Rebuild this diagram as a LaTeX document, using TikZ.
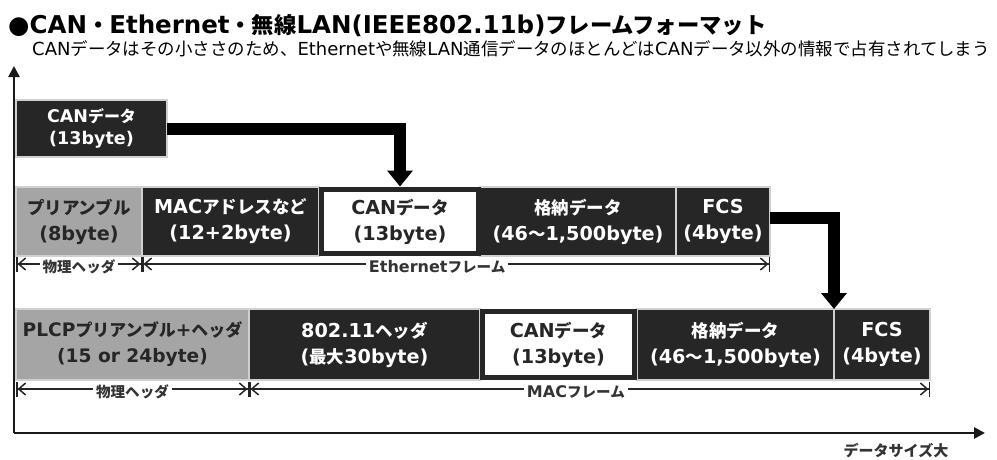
\documentclass[tikz,border=0pt]{standalone}
\usepackage{fontspec}
\setmainfont{DejaVu Sans}
\newfontfamily\jp{Noto Sans CJK JP}[Scale=0.91]
\newfontfamily\jps{Noto Sans CJK JP}[Scale=0.97]
\newcommand{\J}[1]{{\jp #1}}
\newcommand{\K}[1]{{\jps #1}}
\usetikzlibrary{arrows.meta}
\definecolor{dk}{HTML}{262626}
\definecolor{gy}{HTML}{A5A5A5}
\definecolor{sepc}{HTML}{D0D0D0}
\definecolor{lab}{HTML}{333333}
\begin{document}
\begin{tikzpicture}[x=1pt,y=-1pt,
  box/.style={minimum width=#1, inner sep=0pt, outer sep=0pt, anchor=north west, align=center, line width=1.2pt},
  darkbox/.style={box=#1, fill=dk, draw=sepc, text=white},
  graybox/.style={box=#1, fill=gy, draw=sepc, text=dk},
  whitebox/.style={box=#1, fill=white, draw=dk, line width=5pt, text=dk},
  small/.style={font=\bfseries\fontsize{17.5}{22}\selectfont},
  big/.style={font=\bfseries\fontsize{19.2}{26}\selectfont},
  fat/.style={line width=12pt, draw=black, -{Triangle[width=25pt,length=16pt]}},
  brk/.style={line width=1.5pt, draw=black!85, {Bar[width=15pt,line width=1.5pt]Straight Barb[length=7pt,width=12pt,line width=1.5pt]}-{Straight Barb[length=7pt,width=12pt,line width=1.5pt]Bar[width=15pt,line width=1.5pt]}},
  blabel/.style={fill=white, inner sep=3pt, text=lab, font=\bfseries\fontsize{16}{16}\selectfont, yshift=-3pt},
  axis/.style={line width=2.6pt, draw=black!90, -{Triangle[width=11pt,length=11pt]}}
]
\useasboundingbox (0,0) rectangle (997,459);

% title
\node[anchor=base west, inner sep=0pt, font=\bfseries\fontsize{24.5}{24.5}\selectfont] (title) at (8,33)
  {●CAN\J{・}Ethernet\J{・無線}LAN(IEEE802.11b)\J{フレームフォーマット}};
\node[anchor=base west, inner sep=0pt, font=\fontsize{18}{18}\selectfont] (sub) at (32,55)
  {CAN\K{データはその小ささのため、}Ethernet\K{や無線}LAN\K{通信データのほとんどは}CAN\K{データ以外の情報で占有されてしまう}};

% axes
\coordinate (O) at (14,433);
\coordinate (ytop) at (14,66);
\coordinate (xend) at (985,433);
\draw[axis] (O) -- (ytop);
\draw[axis] (O) -- (xend);
\node[font=\bfseries\fontsize{16.5}{16.5}\selectfont, text=lab] (xlab) at (896,451) {\J{データサイズ大}};

% row 1
\node[darkbox=151pt, minimum height=57pt, small] (can) at (16,100) {CAN\J{データ}\\(13byte)};

% row 2
\begin{scope}[every node/.append style={minimum height=69pt, big}]
\node[graybox=126pt] (epre) at (16,187) {\J{プリアンブル}\\(8byte)};
\node[darkbox=177pt] (emac) at (142,187) {MAC\J{アドレスなど}\\(12+2byte)};
\node[darkbox=196pt] (est) at (480,187) {\J{格納データ}\\(46\J{〜}1,500byte)};
\node[darkbox=94pt] (efcs) at (676,187) {FCS\\(4byte)};
\node[whitebox=157pt, minimum height=64pt] (ecan) at (321.5,189.5) {CAN\J{データ}\\(13byte)};
\end{scope}

% row 3
\begin{scope}[every node/.append style={minimum height=71pt, big}]
\node[graybox=233pt, font=\bfseries\fontsize{18.6}{26}\selectfont] (plcp) at (16,309) {PLCP\J{プリアンブル}+\J{ヘッダ}\\(15 or 24byte)};
\node[darkbox=231pt] (hdr) at (249,309) {802.11\J{ヘッダ}\\(\J{最大}30byte)};
\node[darkbox=197pt] (wst) at (637,309) {\J{格納データ}\\(46\J{〜}1,500byte)};
\node[darkbox=96pt] (wfcs) at (834,309) {FCS\\(4byte)};
\node[whitebox=152pt, minimum height=66pt] (wcan) at (482.5,311.5) {CAN\J{データ}\\(13byte)};
\end{scope}

% fat arrows
\draw[fat] (can.east) -| ([yshift=3pt]ecan.north);
\draw[fat] ([yshift=4pt]efcs.east) -| (wfcs.north west);

% brackets row 2
\path (epre.south west) ++(0,8) coordinate (b1);
\path (emac.south west) ++(0,8) coordinate (b2);
\path (efcs.south east) ++(0,8) coordinate (b3);
\draw[brk] (b1) -- node[blabel] {\J{物理ヘッダ}} (b2);
\draw[brk] (b2) -- node[blabel, pos=0.47] {Ethernet\J{フレーム}} (b3);

% brackets row 3
\path (plcp.south west) ++(0,9) coordinate (c1);
\path (hdr.south west) ++(0,9) coordinate (c2);
\path (wfcs.south east) ++(0,9) coordinate (c3);
\draw[brk] (c1) -- node[blabel] {\J{物理ヘッダ}} (c2);
\draw[brk] (c2) -- node[blabel, pos=0.48] {MAC\J{フレーム}} (c3);
\end{tikzpicture}
\end{document}
